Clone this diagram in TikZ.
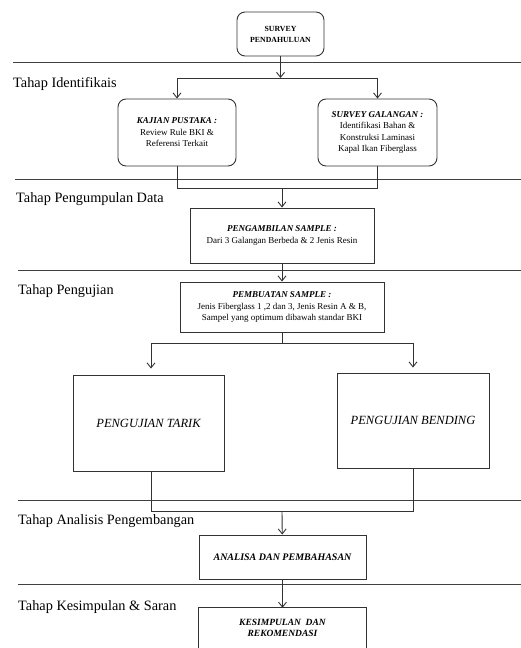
\documentclass[tikz,border=0pt]{standalone}
\usepackage{fontspec}
\setmainfont{Liberation Serif}
\usetikzlibrary{arrows.meta}
\begin{document}
\begin{tikzpicture}[x=1pt,y=-1pt,
  ln/.style={draw=black!80, line width=0.9pt},
  arr/.style={ln, -{Straight Barb[length=5pt,width=8pt]}},
  rbox/.style={ln, rounded corners=8pt, align=center, inner sep=2pt},
  sbox/.style={ln, align=center, inner sep=2pt},
  small/.style={font=\fontsize{9}{11.5}\selectfont},
  stage/.style={anchor=west, inner sep=0pt, font=\fontsize{14.3}{16}\selectfont},
  sepline/.style={draw=black!75, line width=1pt}]
\useasboundingbox (0,0) rectangle (521,648);
\clip (0,0) rectangle (521,648);
\fill[white] (0,0) rectangle (521,648);

% separators
\draw[sepline] (13,62) -- (521,62);
\draw[sepline] (15,179) -- (521,179);
\draw[sepline] (18,270) -- (521,270);
\draw[sepline] (18,500) -- (521,500);
\draw[sepline] (18,584) -- (521,584);

% stage labels
\node[stage] (s1) at (13,84) {Tahap Identifikais};
\node[stage] (s2) at (16,199) {Tahap Pengumpulan Data};
\node[stage] (s3) at (18,291.5) {Tahap Pengujian};
\node[stage] (s4) at (18,521.5) {Tahap Analisis Pengembangan};
\node[stage] (s5) at (18,607) {Tahap Kesimpulan \& Saran};

% boxes
\node[rbox, minimum width=87pt, minimum height=44pt, font=\fontsize{7.8}{11}\selectfont\bfseries] (top) at (280.5,34) {SURVEY\\PENDAHULUAN};
\node[rbox, small, minimum width=118pt, minimum height=67pt] (kajian) at (177,132.5) {\textbf{\textit{KAJIAN PUSTAKA :}}\\Review Rule BKI \&\\Referensi Terkait};
\node[rbox, small, minimum width=119pt, minimum height=67pt] (survey) at (377.5,132.5) {\textbf{\textit{SURVEY GALANGAN :}}\\Identifikasi Bahan \&\\Konstruksi Laminasi\\Kapal Ikan Fiberglass};
\node[sbox, small, minimum width=184pt, minimum height=55pt] (ambil) at (282,235.5) {\textbf{\textit{PENGAMBILAN SAMPLE :}}\\Dari 3 Galangan Berbeda \& 2 Jenis Resin};
\node[sbox, small, minimum width=204pt, minimum height=50pt] (buat) at (282,307) {\textbf{\textit{PEMBUATAN SAMPLE :}}\\Jenis Fiberglass 1 ,2 dan 3, Jenis Resin A \& B,\\Sampel yang optimum dibawah standar BKI};
\node[sbox, minimum width=151pt, minimum height=96pt, font=\fontsize{12.5}{14}\selectfont\itshape] (tarik) at (148.5,423) {PENGUJIAN TARIK};
\node[sbox, minimum width=152pt, minimum height=95pt, font=\fontsize{12.5}{14}\selectfont\itshape] (bending) at (413,420.5) {PENGUJIAN BENDING};
\node[sbox, minimum width=167pt, minimum height=44pt, font=\fontsize{10}{12}\selectfont\bfseries\itshape] (analisa) at (282.5,557) {ANALISA DAN PEMBAHASAN};
\node[align=center, minimum width=167pt, minimum height=40pt, inner sep=0pt, font=\fontsize{9.5}{11.5}\selectfont\bfseries\itshape] (simpul) at (282.5,628) {KESIMPULAN\ \ DAN\\REKOMENDASI};
\draw[ln] ([yshift=-20pt]simpul.south west) -- (simpul.north west) -- (simpul.north east) -- ([yshift=-20pt]simpul.south east);

% connectors
\coordinate (j1) at (280.5,78);
\coordinate (jl) at (177,78);
\coordinate (jr) at (377.5,78);
\draw[arr] (top) -- (j1);
\draw[ln] (jl) -- (jr);
\draw[arr] (jl) -- (kajian);
\draw[arr] (jr) -- (survey);

\coordinate (m1) at (282,188);
\draw[ln] (kajian.south) -- (kajian.south |- m1) -- (survey.south |- m1) -- (survey.south);
\draw[arr] (m1) -- (ambil);
\draw[arr] (ambil) -- (buat);

\coordinate (k1) at (282,343);
\coordinate (kl) at (151,343);
\coordinate (kr) at (413,343);
\draw[ln] (buat) -- (k1);
\draw[ln] (kl) -- (kr);
\draw[arr, shorten >=6pt] (kl) -- (kl |- tarik.north);
\draw[arr, shorten >=5pt] (kr) -- (bending);

\coordinate (n1) at (282,511);
\draw[ln] (kl |- tarik.south) -- (kl |- n1) -- (kr |- n1) -- (bending.south);
\draw[arr] (n1) -- (analisa);
\draw[arr] (analisa) -- (simpul);
\end{tikzpicture}
\end{document}
